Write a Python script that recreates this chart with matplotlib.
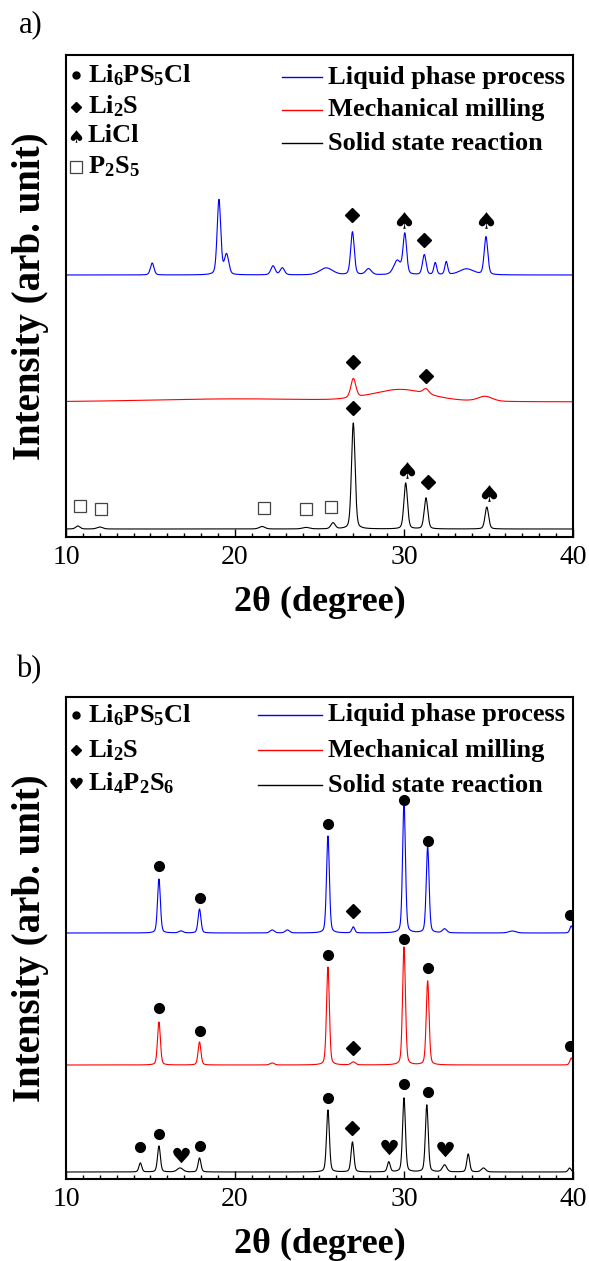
import numpy as np
import matplotlib
matplotlib.use("Agg")
import matplotlib.pyplot as plt
from matplotlib.path import Path
from matplotlib.textpath import TextPath
from matplotlib.font_manager import FontProperties
from matplotlib.ticker import MultipleLocator

plt.rcParams['font.family'] = 'Liberation Serif'
plt.rcParams['mathtext.fontset'] = 'custom'
plt.rcParams['mathtext.rm'] = 'Liberation Serif'
plt.rcParams['mathtext.bf'] = 'Liberation Serif:bold'

# ---- a) precursor mixtures: baseline offset, peak centre / height / FWHM
a_liq_base = 262
a_liq_pos = [15.1, 19.05, 19.5, 22.25, 22.8, 25.4, 26.95, 27.9, 29.6, 30.05, 31.2, 31.85, 32.5, 33.7, 34.85]
a_liq_h   = [12, 75, 20, 9, 7, 7, 43, 6, 14, 40, 20, 12, 13, 6, 38]
a_liq_w   = [0.25, 0.25, 0.3, 0.3, 0.3, 0.9, 0.25, 0.4, 0.5, 0.25, 0.25, 0.2, 0.2, 1.0, 0.25]

a_mm_base = 135
a_mm_pos = [20.0, 27.0, 29.8, 31.3, 34.8]
a_mm_h   = [3, 19, 12, 5, 5]
a_mm_w   = [12.0, 0.35, 4.0, 0.4, 1.0]

a_ss_base = 8
a_ss_pos = [10.7, 12.0, 21.6, 24.2, 25.8, 27.0, 30.1, 31.3, 34.9]
a_ss_h   = [3, 2, 2.5, 1.5, 6, 106, 46, 31, 22]
a_ss_w   = [0.3, 0.4, 0.4, 0.5, 0.3, 0.25, 0.25, 0.25, 0.25]

a_dia_x = [26.95, 31.2, 27.0, 31.3, 27.0, 31.4]
a_dia_y = [322, 297, 175, 161, 129, 55]
a_spd_x = [30.0, 34.85, 30.15, 35.0]
a_spd_y = [317, 317, 67, 44]
a_sq_x = [10.8, 12.1, 21.7, 24.2, 25.7]
a_sq_y = [31, 28, 29, 28, 30]

# ---- b) argyrodite products
b_liq_base = 246
b_liq_pos = [15.5, 16.8, 17.9, 22.2, 23.1, 25.5, 27.0, 30.0, 31.4, 32.4, 36.4, 39.9]
b_liq_h   = [54, 2, 24, 3, 3, 97, 6, 131, 86, 4, 2, 7]
b_liq_w   = [0.2, 0.3, 0.2, 0.3, 0.3, 0.2, 0.2, 0.2, 0.2, 0.3, 0.5, 0.2]

b_mm_base = 114
b_mm_pos = [15.5, 17.9, 22.2, 25.5, 27.0, 30.0, 31.4, 39.9]
b_mm_h   = [43, 23, 2, 98, 3, 118, 84, 7]
b_mm_w   = [0.2, 0.2, 0.3, 0.2, 0.3, 0.2, 0.2, 0.2]

b_ss_base = 7
b_ss_pos = [14.4, 15.5, 16.75, 17.9, 25.5, 26.95, 29.1, 30.0, 31.35, 32.4, 33.8, 34.7, 39.8]
b_ss_h   = [9, 26, 4, 14, 62, 30, 10, 74, 67, 7, 18, 4, 4]
b_ss_w   = [0.2, 0.2, 0.4, 0.2, 0.2, 0.2, 0.2, 0.2, 0.2, 0.3, 0.2, 0.3, 0.2]

b_cir_x = [15.5, 17.9, 25.5, 30.0, 31.4, 39.85,
           15.5, 17.9, 25.5, 30.0, 31.4, 39.85,
           14.4, 15.5, 17.9, 25.5, 30.0, 31.4]
b_cir_y = [313, 281, 355, 379, 338, 264,
           171, 148, 224, 240, 211, 133,
           32, 45, 33, 81, 95, 87]
b_dia_x = [27.0, 27.0, 26.95]
b_dia_y = [268, 131, 51]
b_hrt_x = [16.8, 29.1, 32.4]
b_hrt_y = [24, 32, 30]

tth = np.linspace(10, 40, 3001)


def pattern(base, pos, h, w, eta=0.3):
    y = np.full_like(tth, base, dtype=float)
    for c, a, f in zip(pos, h, w):
        d = 4 * (tth - c) ** 2 / f ** 2
        y += a * (eta / (1 + d) + (1 - eta) * np.exp(-np.log(2) * d))
    return y


def glyph(ch, xstretch=1.0):
    # card-suit glyph as a centred marker path
    p = TextPath((0, 0), ch, prop=FontProperties(family="DejaVu Sans"))
    ext = p.get_extents()
    v = p.vertices.copy()
    v[:, 0] = (v[:, 0] - (ext.x0 + ext.x1) / 2) * xstretch
    v[:, 1] -= (ext.y0 + ext.y1) / 2
    v[p.codes == Path.CLOSEPOLY] = 0
    return Path(v, p.codes)


spade = glyph("\u2660", 1.15)
heart = glyph("\u2665", 1.1)

fig = plt.figure(figsize=(5.89, 12.61), dpi=100)
ax_a = fig.add_axes([66 / 589, (1261 - 537) / 1261, 507 / 589, 482 / 1261])
ax_b = fig.add_axes([66 / 589, (1261 - 1179) / 1261, 507 / 589, 482 / 1261])

ax_a.plot(tth, pattern(a_liq_base, a_liq_pos, a_liq_h, a_liq_w), color='#0000ff', lw=0.8)
ax_a.plot(tth, pattern(a_mm_base, a_mm_pos, a_mm_h, a_mm_w), color='#ff0000', lw=0.8)
ax_a.plot(tth, pattern(a_ss_base, a_ss_pos, a_ss_h, a_ss_w), color='black', lw=0.8)

ax_b.plot(tth, pattern(b_liq_base, b_liq_pos, b_liq_h, b_liq_w), color='#0000ff', lw=0.8)
ax_b.plot(tth, pattern(b_mm_base, b_mm_pos, b_mm_h, b_mm_w), color='#ff0000', lw=0.8)
ax_b.plot(tth, pattern(b_ss_base, b_ss_pos, b_ss_h, b_ss_w), color='black', lw=0.8)

# phase markers above the reflections
ax_a.plot(a_dia_x, a_dia_y, ls='none', marker='D', ms=7, color='black')
ax_a.plot(a_spd_x, a_spd_y, ls='none', marker=spade, ms=12, color='black', mew=0)
ax_a.plot(a_sq_x, a_sq_y, ls='none', marker='s', ms=9, mfc='white', mec='#444444', mew=0.9)

ax_b.plot(b_cir_x, b_cir_y, ls='none', marker='o', ms=7, color='black')
ax_b.plot(b_dia_x, b_dia_y, ls='none', marker='D', ms=7, color='black')
ax_b.plot(b_hrt_x, b_hrt_y, ls='none', marker=heart, ms=12, color='black', mew=0)

series = ['Liquid phase process', 'Mechanical milling', 'Solid state reaction']
colors = ['#0000ff', '#ff0000', 'black']

legend_a = [('o', r'$\mathbf{Li_6PS_5Cl}$'), ('D', r'$\mathbf{Li_2S}$'),
            (spade, 'LiCl'), ('s', r'$\mathbf{P_2S_5}$')]
legend_b = [('o', r'$\mathbf{Li_6PS_5Cl}$'), ('D', r'$\mathbf{Li_2S}$'),
            (heart, r'$\mathbf{Li_4P_2S_6}$')]

for ax, label, rows, sym_rows, x0 in [
        (ax_a, 'a)', [0.954, 0.886, 0.817], [0.959, 0.893, 0.832, 0.768], 0.426),
        (ax_b, 'b)', [0.963, 0.890, 0.817], [0.963, 0.890, 0.822], 0.379)]:
    ax.set_xlim(10, 40)
    ax.set_ylim(0, 482)
    ax.set_yticks([])
    ax.xaxis.set_major_locator(MultipleLocator(10))
    ax.xaxis.set_minor_locator(MultipleLocator(1))
    ax.tick_params(axis='x', which='both', direction='in', top=False, labelsize=20, pad=6)
    ax.tick_params(axis='x', which='major', length=6, width=1)
    ax.tick_params(axis='x', which='minor', length=3, width=1)
    for s in ax.spines.values():
        s.set_linewidth(1.5)
    ax.set_xlabel('2\u03b8 (degree)', fontsize=26, fontweight='bold')
    ax.xaxis.set_label_coords(0.5, -0.135)
    ax.xaxis.label.set_va('center')
    ax.set_ylabel('Intensity (arb. unit)', fontsize=28, fontweight='bold')
    ax.yaxis.set_label_coords(-0.07, 0.5)
    ax.yaxis.label.set_va('center')

    for name, c, yy in zip(series, colors, rows):
        ax.plot([x0, 0.505], [yy, yy], color=c, lw=1.0, transform=ax.transAxes)
        ax.text(0.517, yy, name, transform=ax.transAxes, fontsize=19,
                fontweight='bold', va='center', ha='left')

    leg = legend_a if ax is ax_a else legend_b
    for (m, txt), yy in zip(leg, sym_rows):
        if m == 'o':
            ax.plot([0.02], [yy], marker='o', ms=5, color='black', transform=ax.transAxes)
        elif m == 'D':
            ax.plot([0.02], [yy], marker='D', ms=5, color='black', transform=ax.transAxes)
        elif m == 's':
            ax.plot([0.02], [yy], marker='s', ms=9, mfc='white', mec='#444444',
                    mew=0.9, transform=ax.transAxes)
        else:
            ax.plot([0.02], [yy], marker=m, ms=9, color='black', mew=0,
                    transform=ax.transAxes)
        ax.text(0.043, yy, txt, transform=ax.transAxes, fontsize=19,
                fontweight='bold', va='center', ha='left')

fig.text(31 / 589, 1 - 25 / 1261, 'a)', fontsize=22, ha='center', va='center')
fig.text(29 / 589, 1 - 670 / 1261, 'b)', fontsize=22, ha='center', va='center')

fig.savefig('out.png', dpi=100)
